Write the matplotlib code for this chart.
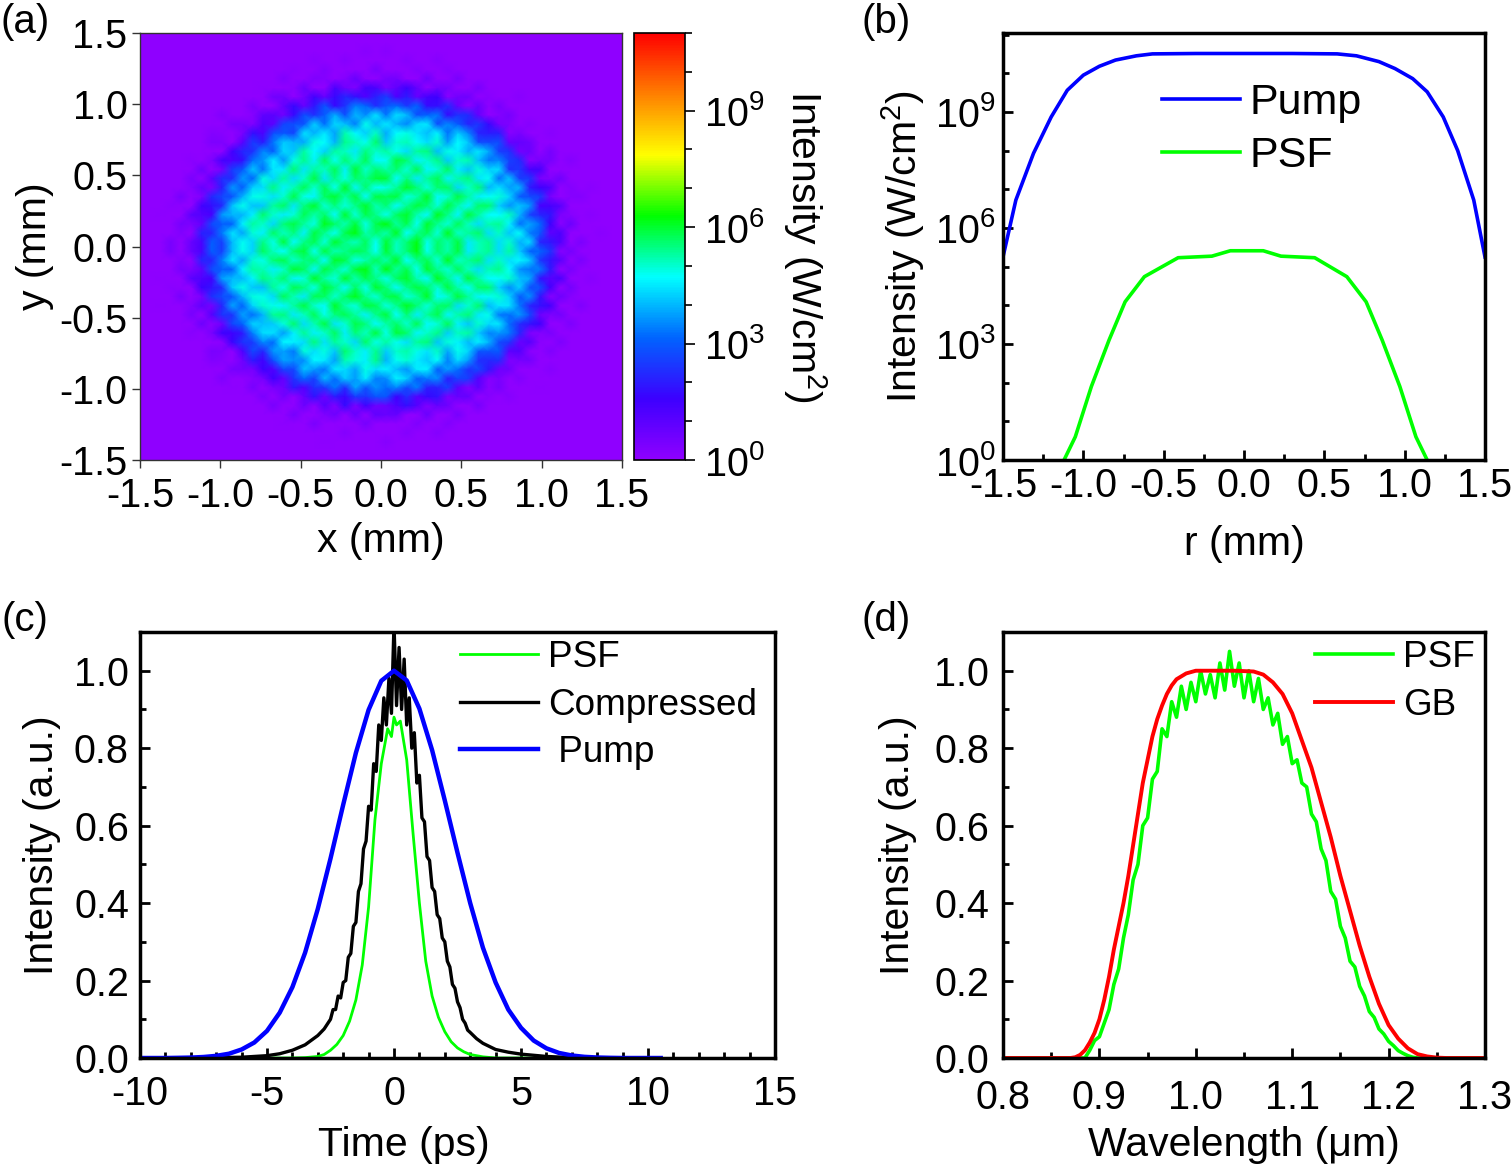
import numpy as np
import matplotlib
matplotlib.use("Agg")
import matplotlib.pyplot as plt
from matplotlib.colors import LinearSegmentedColormap
from matplotlib.ticker import MultipleLocator, FixedLocator, NullFormatter, FormatStrFormatter

plt.rcParams['font.family'] = ['Liberation Sans', 'DejaVu Sans']
plt.rcParams['mathtext.fontset'] = 'custom'
plt.rcParams['mathtext.rm'] = 'Liberation Sans'
plt.rcParams['mathtext.it'] = 'Liberation Sans:italic'
plt.rcParams['mathtext.bf'] = 'Liberation Sans:bold'
plt.rcParams['axes.unicode_minus'] = False

TICK = 28.5
LAB = 29.5
LEG = 26.6

# ---- (a) beam cross-section: radial profile (log10 W/cm^2) + texture block ----
prof_r = [0.0, 0.4, 0.6, 0.75, 0.85, 0.92, 0.98, 1.03, 1.08, 1.13, 1.2, 1.5]
prof_log = [5.5, 5.4, 5.2, 4.9, 4.4, 3.9, 3.2, 2.5, 1.7, 0.9, 0.0, -1.0]
beam_center = (-0.02, -0.01)
texture = [
    [0.4, -0.3, 0.1, 0.6, -0.5, 0.2, -0.1, 0.5, -0.6, 0.0, 0.3, -0.4],
    [-0.2, 0.5, -0.6, 0.0, 0.3, -0.4, 0.6, -0.2, 0.1, 0.4, -0.5, 0.2],
    [0.6, -0.1, 0.3, -0.5, 0.5, 0.0, -0.3, 0.4, -0.1, -0.6, 0.2, 0.5],
    [-0.5, 0.2, 0.5, -0.2, -0.6, 0.6, 0.1, -0.5, 0.6, 0.2, -0.2, 0.0],
    [0.1, -0.6, 0.0, 0.4, 0.2, -0.3, 0.5, 0.0, -0.4, 0.5, 0.6, -0.3],
    [0.3, 0.4, -0.4, -0.1, 0.6, -0.5, -0.2, 0.6, 0.2, -0.3, 0.0, 0.4],
    [-0.4, 0.0, 0.6, 0.2, -0.3, 0.3, 0.4, -0.6, 0.0, 0.6, -0.5, 0.1],
    [0.5, -0.5, 0.2, -0.6, 0.1, 0.5, -0.4, 0.2, 0.5, -0.2, 0.3, -0.6],
    [0.0, 0.3, -0.2, 0.5, -0.4, -0.1, 0.6, -0.3, -0.5, 0.4, 0.1, 0.5],
    [-0.3, 0.6, 0.4, -0.4, 0.0, 0.4, -0.6, 0.3, 0.6, -0.1, -0.4, 0.2],
    [0.2, -0.2, -0.5, 0.3, 0.5, -0.6, 0.2, 0.1, -0.2, 0.5, 0.4, -0.1],
    [-0.6, 0.1, 0.3, 0.0, -0.2, 0.4, -0.5, 0.5, 0.3, -0.4, 0.0, 0.6],
]
texture_gain = 1.25
cbar_ticks = [0, 3, 6, 9]

# ---- (b) radial profiles, log10 intensity ----
pump_r = [-1.5, -1.42, -1.31, -1.2, -1.1, -1.0, -0.9, -0.8, -0.67, -0.57, -0.3, 0.0,
          0.3, 0.58, 0.7, 0.84, 0.94, 1.05, 1.14, 1.24, 1.33, 1.43, 1.5]
pump_log = [5.25, 6.72, 7.93, 8.87, 9.56, 9.95, 10.18, 10.34, 10.45, 10.5, 10.51, 10.51,
            10.51, 10.5, 10.45, 10.3, 10.12, 9.86, 9.52, 8.87, 8.0, 6.72, 5.25]
psf_r = [-1.12, -1.05, -0.95, -0.84, -0.74, -0.62, -0.41, -0.2, -0.085, 0.12, 0.23,
         0.44, 0.64, 0.76, 0.86, 0.97, 1.07, 1.14]
psf_log = [0.0, 0.6, 1.9, 3.1, 4.09, 4.74, 5.23, 5.27, 5.41, 5.41, 5.27,
           5.23, 4.74, 4.09, 3.1, 1.9, 0.6, 0.0]

# ---- (c) temporal profiles ----
t_pump = [-10, -9.5, -9, -8.5, -8, -7.5, -7, -6.5, -6, -5.5, -5, -4.5, -4, -3.5, -3,
          -2.5, -2, -1.5, -1, -0.5, 0, 0.5, 1, 1.5, 2, 2.5, 3, 3.5, 4, 4.5, 5, 5.5,
          6, 6.5, 7, 7.5, 8, 8.5, 9, 10, 10.5]
i_pump = [0.0, 0.0, 0.0, 0.0005, 0.0011, 0.0026, 0.0055, 0.011, 0.022, 0.04, 0.07,
          0.117, 0.183, 0.272, 0.385, 0.515, 0.654, 0.788, 0.899, 0.974, 1.0, 0.975,
          0.902, 0.795, 0.665, 0.53, 0.40, 0.285, 0.195, 0.125, 0.078, 0.045, 0.025,
          0.013, 0.0065, 0.003, 0.0013, 0.0005, 0.0, 0.0, 0.0]
t_comp = [-10, -8, -7, -6, -5, -4.5, -4, -3.5, -3, -2.75,
          -2.5, -2.4, -2.3, -2.2, -2.1, -2.0, -1.9, -1.8, -1.7, -1.6, -1.5, -1.4, -1.3,
          -1.2, -1.1, -1.0, -0.9, -0.8, -0.7, -0.6, -0.5, -0.4, -0.3, -0.2, -0.1, 0.0,
          0.1, 0.2, 0.3, 0.4, 0.5, 0.6, 0.7, 0.8, 0.9, 1.0, 1.1, 1.2, 1.3, 1.4, 1.5,
          1.6, 1.7, 1.8, 1.9, 2.0, 2.1, 2.2, 2.3, 2.4, 2.5, 2.6, 2.7, 2.8, 2.9, 3.0,
          3.25, 3.5, 4.0, 4.5, 5.0, 6.0, 7.0, 8.0, 10.0]
i_comp = [0.0, 0.0005, 0.001, 0.002, 0.006, 0.011, 0.02, 0.034, 0.058, 0.075,
          0.10, 0.125, 0.125, 0.16, 0.155, 0.195, 0.20, 0.26, 0.27, 0.34, 0.35, 0.43, 0.45,
          0.54, 0.56, 0.65, 0.64, 0.76, 0.74, 0.86, 0.82, 0.93, 0.86, 0.98, 0.89, 1.12,
          0.91, 1.06, 0.90, 1.03, 0.86, 0.93, 0.80, 0.84, 0.71, 0.73, 0.62, 0.61, 0.52,
          0.51, 0.44, 0.43, 0.37, 0.36, 0.31, 0.30, 0.25, 0.235, 0.19, 0.18, 0.145,
          0.13, 0.10, 0.09, 0.072, 0.066, 0.05, 0.038, 0.022, 0.015, 0.01, 0.004,
          0.001, 0.0, 0.0]
t_psf = [-10, -4, -3.5, -3.0, -2.75, -2.5, -2.25, -2.0, -1.75, -1.5, -1.25, -1.0,
         -0.75, -0.5, -0.25, -0.1, 0.0, 0.1, 0.25, 0.5, 0.75, 1.0, 1.25, 1.5, 1.75,
         2.0, 2.25, 2.5, 2.75, 3.0, 3.5, 4.0, 10]
i_psf = [0.0, 0.0, 0.001, 0.004, 0.009, 0.02, 0.035, 0.058, 0.095, 0.15, 0.24, 0.39,
         0.615, 0.76, 0.85, 0.83, 0.88, 0.86, 0.87, 0.77, 0.58, 0.40, 0.25, 0.16,
         0.105, 0.068, 0.042, 0.026, 0.016, 0.009, 0.003, 0.0, 0.0]

# ---- (d) spectra ----
wl_gb = [0.80, 0.85, 0.87, 0.875, 0.88, 0.885, 0.89, 0.895, 0.90, 0.905, 0.91, 0.915,
         0.92, 0.925, 0.93, 0.935, 0.94, 0.945, 0.95, 0.955, 0.96, 0.965, 0.97, 0.975,
         0.98, 0.99, 1.00, 1.02, 1.04, 1.06, 1.07, 1.08, 1.09, 1.10, 1.11, 1.12, 1.13,
         1.14, 1.15, 1.16, 1.17, 1.18, 1.19, 1.20, 1.21, 1.22, 1.23, 1.24, 1.25, 1.26,
         1.30]
i_gb = [0.0, 0.0, 0.0, 0.002, 0.008, 0.02, 0.04, 0.065, 0.10, 0.15, 0.21, 0.28,
        0.34, 0.40, 0.47, 0.55, 0.63, 0.71, 0.77, 0.83, 0.875, 0.91, 0.94, 0.962,
        0.978, 0.993, 1.0, 1.0, 1.0, 0.998, 0.99, 0.97, 0.94, 0.89, 0.82, 0.75, 0.66,
        0.57, 0.47, 0.38, 0.29, 0.21, 0.14, 0.085, 0.05, 0.025, 0.01, 0.004, 0.001, 0.0,
        0.0]
wl_psf = [0.80, 0.885, 0.890, 0.895, 0.900, 0.905, 0.910, 0.915, 0.920, 0.925, 0.930,
          0.935, 0.940, 0.945, 0.950, 0.955, 0.960, 0.965, 0.970, 0.975, 0.980, 0.985,
          0.990, 0.995, 1.000, 1.005, 1.010, 1.015, 1.020, 1.025, 1.030, 1.035, 1.040,
          1.045, 1.050, 1.055, 1.060, 1.065, 1.070, 1.075, 1.080, 1.085, 1.090, 1.095,
          1.100, 1.105, 1.110, 1.115, 1.120, 1.125, 1.130, 1.135, 1.140, 1.145, 1.150,
          1.155, 1.160, 1.165, 1.170, 1.175, 1.180, 1.185, 1.190, 1.195, 1.200, 1.205,
          1.210, 1.215, 1.220, 1.225, 1.230, 1.30]
i_psf_d = [0.0, 0.0, 0.02, 0.045, 0.055, 0.09, 0.125, 0.19, 0.23, 0.31, 0.37,
           0.46, 0.50, 0.60, 0.62, 0.72, 0.74, 0.85, 0.83, 0.92, 0.88, 0.96,
           0.90, 0.97, 0.92, 1.00, 0.94, 0.99, 0.93, 1.02, 0.95, 1.05, 0.96,
           1.02, 0.93, 1.00, 0.92, 0.98, 0.90, 0.93, 0.86, 0.89, 0.81, 0.83,
           0.76, 0.77, 0.71, 0.70, 0.63, 0.61, 0.54, 0.51, 0.43, 0.41, 0.34,
           0.31, 0.25, 0.235, 0.185, 0.16, 0.12, 0.105, 0.075, 0.062, 0.043, 0.032,
           0.019, 0.012, 0.006, 0.002, 0.0, 0.0]

W, H = 1512, 1168
fig = plt.figure(figsize=(W / 100, H / 100), dpi=100)


def box(l, t, r, b):
    return [l / W, 1 - b / H, (r - l) / W, (b - t) / H]


ax_a = fig.add_axes(box(140, 33, 622, 460))
cax = fig.add_axes(box(634, 33, 685, 460))
ax_b = fig.add_axes(box(1003, 33, 1485, 460))
ax_c = fig.add_axes(box(140, 632, 775, 1058))
ax_d = fig.add_axes(box(1003, 632, 1485, 1058))

# ---------- (a) ----------
rainbow = LinearSegmentedColormap.from_list(
    "origin_rainbow",
    ['#8f00ff', '#3c00ff', '#0064ff', '#00ffff', '#00ff00', '#ffff00', '#ff8000', '#ff0000'])
tex = np.array(texture) * texture_gain
tex24 = np.block([[tex, tex.T], [tex[::-1], tex[:, ::-1]]])
tex48 = np.tile(tex24, (2, 2))
gx = np.linspace(-1.5, 1.5, tex48.shape[0])
X, Y = np.meshgrid(gx, gx)
R = np.hypot(X - beam_center[0], Y - beam_center[1])
Z = np.clip(np.interp(R, prof_r, prof_log) + tex48, 0, 11)
pcm = ax_a.pcolormesh(X, Y, Z, shading='gouraud', cmap=rainbow, vmin=0, vmax=11)
ax_a.set_xlim(-1.5, 1.5)
ax_a.set_ylim(-1.5, 1.5)
ax_a.xaxis.set_major_locator(MultipleLocator(0.5))
ax_a.yaxis.set_major_locator(MultipleLocator(0.5))
ax_a.xaxis.set_major_formatter(FormatStrFormatter('%.1f'))
ax_a.yaxis.set_major_formatter(FormatStrFormatter('%.1f'))
ax_a.tick_params(direction='out', length=6, width=1, color='#333333', labelsize=TICK)
ax_a.tick_params(axis='x', pad=6)
ax_a.tick_params(axis='y', pad=3)
for s in ax_a.spines.values():
    s.set_linewidth(1.0)
    s.set_color('#333333')
ax_a.set_xlabel('x (mm)', fontsize=LAB)
ax_a.set_ylabel('y (mm)', fontsize=LAB)
ax_a.xaxis.label.set_va('center')
ax_a.yaxis.label.set_va('center')
ax_a.xaxis.set_label_coords(0.5, -0.19)
ax_a.yaxis.set_label_coords(-0.218, 0.5)

cb = fig.colorbar(pcm, cax=cax, ticks=cbar_ticks)
cb.outline.set_linewidth(1.2)
cax.set_yticklabels(['10$^{%d}$' % k for k in cbar_ticks])
cax.yaxis.set_minor_locator(FixedLocator(list(range(12))))
cax.yaxis.set_minor_formatter(NullFormatter())
cax.tick_params(which='major', direction='out', length=7, width=1.2, labelsize=TICK, pad=7)
cax.tick_params(which='minor', direction='out', length=5, width=1.2)
cax.text(3.35, 0.5, 'Intensity (W/cm$^{2}$)', transform=cax.transAxes, rotation=270,
         ha='center', va='center', fontsize=LAB)


def thick(ax):
    for s in ax.spines.values():
        s.set_linewidth(2.5)
    ax.tick_params(which='both', direction='in', top=False, right=False, width=2,
                   labelsize=TICK)
    ax.tick_params(which='major', length=7)
    ax.tick_params(which='minor', length=4)


# ---------- (b) ----------
ax_b.plot(pump_r, [10.0 ** v for v in pump_log], color='#0000ff', lw=2.6, label='Pump')
ax_b.plot(psf_r, [10.0 ** v for v in psf_log], color='#00ff00', lw=2.6, label='PSF')
ax_b.set_yscale('log')
ax_b.set_xlim(-1.5, 1.5)
ax_b.set_ylim(1, 10 ** 11.04)
ax_b.yaxis.set_major_locator(FixedLocator([1e0, 1e3, 1e6, 1e9]))
ax_b.set_yticklabels(['10$^{0}$', '10$^{3}$', '10$^{6}$', '10$^{9}$'])
ax_b.yaxis.set_minor_locator(FixedLocator([10.0 ** k for k in range(12)]))
ax_b.yaxis.set_minor_formatter(NullFormatter())
ax_b.xaxis.set_major_locator(MultipleLocator(0.5))
ax_b.xaxis.set_minor_locator(MultipleLocator(0.25))
ax_b.xaxis.set_major_formatter(FormatStrFormatter('%.1f'))
thick(ax_b)
ax_b.tick_params(axis='x', pad=5)
ax_b.tick_params(axis='y', pad=5)
ax_b.set_xlabel('r (mm)', fontsize=LAB)
ax_b.set_ylabel('Intensity (W/cm$^{2}$)', fontsize=LAB)
ax_b.xaxis.label.set_va('center')
ax_b.yaxis.label.set_va('center')
ax_b.xaxis.set_label_coords(0.5, -0.197)
ax_b.yaxis.set_label_coords(-0.207, 0.5)
ax_b.legend(loc='upper left', bbox_to_anchor=(0.33, 0.883), frameon=False,
            fontsize=31, borderpad=0, borderaxespad=0, handlelength=1.81,
            handletextpad=0.23, labelspacing=0.31)

# ---------- (c) ----------
ax_c.plot(t_psf, i_psf, color='#00ff00', lw=2.0, label='PSF')
ax_c.plot(t_comp, i_comp, color='black', lw=2.4, label='Compressed')
ax_c.plot(t_pump, i_pump, color='#0000ff', lw=3.2, label=' Pump')
ax_c.set_xlim(-10, 15)
ax_c.set_ylim(0, 1.1)
ax_c.xaxis.set_major_locator(MultipleLocator(5))
ax_c.xaxis.set_minor_locator(MultipleLocator(1))
ax_c.yaxis.set_major_locator(MultipleLocator(0.2))
ax_c.yaxis.set_minor_locator(MultipleLocator(0.1))
ax_c.yaxis.set_major_formatter(FormatStrFormatter('%.1f'))
thick(ax_c)
ax_c.tick_params(axis='x', pad=12)
ax_c.tick_params(axis='y', pad=8)
ax_c.set_xlabel('Time (ps)', fontsize=LAB)
ax_c.set_ylabel('Intensity (a.u.)', fontsize=LAB)
ax_c.xaxis.label.set_va('center')
ax_c.yaxis.label.set_va('center')
ax_c.xaxis.set_label_coords(0.416, -0.204)
ax_c.yaxis.set_label_coords(-0.154, 0.5)
ax_c.legend(loc='upper left', bbox_to_anchor=(0.504, 0.981), frameon=False,
            fontsize=LEG, borderpad=0, borderaxespad=0, handlelength=2.11,
            handletextpad=0.27, labelspacing=0.34)

# ---------- (d) ----------
ax_d.plot(wl_psf, i_psf_d, color='#00ff00', lw=2.6, label='PSF')
ax_d.plot(wl_gb, i_gb, color='#ff0000', lw=2.8, label='GB')
ax_d.set_xlim(0.8, 1.3)
ax_d.set_ylim(0, 1.1)
ax_d.xaxis.set_major_locator(MultipleLocator(0.1))
ax_d.xaxis.set_minor_locator(MultipleLocator(0.05))
ax_d.yaxis.set_major_locator(MultipleLocator(0.2))
ax_d.yaxis.set_minor_locator(MultipleLocator(0.1))
ax_d.xaxis.set_major_formatter(FormatStrFormatter('%.1f'))
ax_d.yaxis.set_major_formatter(FormatStrFormatter('%.1f'))
thick(ax_d)
ax_d.tick_params(axis='x', pad=15)
ax_d.tick_params(axis='y', pad=10)
ax_d.set_xlabel('Wavelength (μm)', fontsize=LAB)
ax_d.set_ylabel('Intensity (a.u.)', fontsize=LAB)
ax_d.xaxis.label.set_va('center')
ax_d.yaxis.label.set_va('center')
ax_d.xaxis.set_label_coords(0.5, -0.204)
ax_d.yaxis.set_label_coords(-0.218, 0.5)
ax_d.legend(loc='upper left', bbox_to_anchor=(0.647, 0.981), frameon=False,
            fontsize=LEG, borderpad=0, borderaxespad=0, handlelength=2.11,
            handletextpad=0.27, labelspacing=0.34)

for x, y, s in [(25, 22, '(a)'), (886, 22, '(b)'), (25, 620, '(c)'), (886, 620, '(d)')]:
    fig.text(x / W, 1 - y / H, s, ha='center', va='center', fontsize=29)

fig.savefig('out.png', dpi=100)
